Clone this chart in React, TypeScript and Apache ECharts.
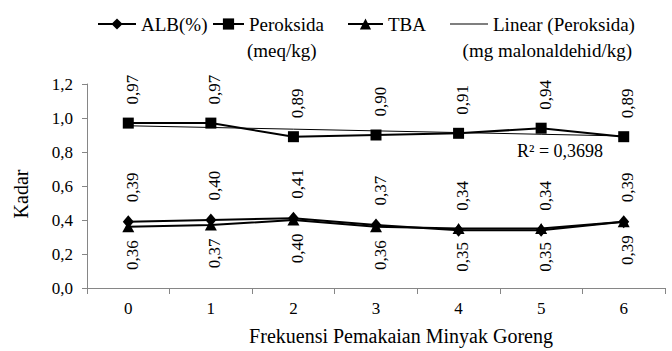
import React, { useEffect, useRef } from "react";
import * as echarts from "echarts";

const categories = ["0", "1", "2", "3", "4", "5", "6"];
const albValues = [0.39, 0.4, 0.41, 0.37, 0.34, 0.34, 0.39];
const peroksidaValues = [0.97, 0.97, 0.89, 0.9, 0.91, 0.94, 0.89];
const tbaValues = [0.36, 0.37, 0.4, 0.36, 0.35, 0.35, 0.39];
const yMin = 0;
const yMax = 1.2;
const yInterval = 0.2;

const seriesNames = {
  alb: "ALB(%)",
  per: "Peroksida",
  tba: "TBA",
  lin: "Linear (Peroksida)",
};
const perUnit = "(meq/kg)";
const tbaUnit = "(mg malonaldehid/kg)";
const xTitle = "Frekuensi Pemakaian Minyak Goreng";
const yTitle = "Kadar";

// least-squares linear trend of Peroksida (Excel "Linear" trendline)
function linearFit(ys: number[]) {
  const n = ys.length;
  const xs = ys.map((_, i) => i);
  const mx = xs.reduce((a, b) => a + b, 0) / n;
  const my = ys.reduce((a, b) => a + b, 0) / n;
  let sxy = 0, sxx = 0, syy = 0;
  for (let i = 0; i < n; i++) {
    sxy += (xs[i] - mx) * (ys[i] - my);
    sxx += (xs[i] - mx) ** 2;
    syy += (ys[i] - my) ** 2;
  }
  const slope = sxy / sxx;
  const icpt = my - slope * mx;
  const r2 = (sxy * sxy) / (sxx * syy);
  return { line: xs.map((x) => icpt + slope * x), r2 };
}

const FONT = "Liberation Serif";
const comma = (v: number, d: number) => v.toFixed(d).replace(".", ",");

export default function App() {
  const ref = useRef<HTMLDivElement>(null);
  useEffect(() => {
    if (!ref.current) return;
    const chart = echarts.init(ref.current, undefined, { renderer: "svg" });
    const fit = linearFit(peroksidaValues);

    const labelTop = (dist: number) => ({
      show: true,
      position: "top",
      rotate: 90,
      align: "left",
      verticalAlign: "middle",
      distance: dist,
      offset: [0, 4],
      fontFamily: FONT,
      fontSize: 17,
      color: "#000",
      formatter: (p: any) => comma(p.value, 2),
    });
    const labelBottom = (dist: number) => ({
      show: true,
      position: "bottom",
      rotate: 90,
      align: "right",
      verticalAlign: "middle",
      distance: dist,
      offset: [0, 4],
      fontFamily: FONT,
      fontSize: 17,
      color: "#000",
      formatter: (p: any) => comma(p.value, 2),
    });

    const legendBase = {
      orient: "horizontal",
      padding: 0,
      itemHeight: 14,
      top: 11,
      selectedMode: false,
      textStyle: { fontFamily: FONT, fontSize: 19, color: "#000", lineHeight: 26 },
    };

    chart.setOption({
      animation: false,
      backgroundColor: "#fff",
      textStyle: { fontFamily: FONT },
      legend: [
        { ...legendBase, left: 97, itemWidth: 38, data: [seriesNames.alb] },
        { ...legendBase, left: 212, itemWidth: 31, data: [seriesNames.per] },
        { ...legendBase, left: 347, itemWidth: 35, data: [seriesNames.tba] },
        {
          ...legendBase,
          left: 450,
          itemWidth: 38,
          itemHeight: 1,
          data: [{ name: seriesNames.lin, icon: "rect" }],
        },
      ],
      grid: { left: 87, right: 7, top: 84, bottom: 57, containLabel: false },
      xAxis: {
        type: "category",
        data: categories,
        boundaryGap: true,
        axisLine: { show: true, lineStyle: { color: "#868686", width: 1 } },
        axisTick: { show: true, alignWithLabel: false, length: 6, lineStyle: { color: "#868686" } },
        axisLabel: { fontFamily: FONT, fontSize: 17, color: "#000", margin: 12 },
        splitLine: { show: false },
        name: xTitle,
        nameLocation: "middle",
        nameGap: 38,
        nameTextStyle: { fontFamily: FONT, fontSize: 20, color: "#000", padding: [0, 0, 0, 50] },
      },
      yAxis: {
        type: "value",
        min: yMin,
        max: yMax,
        interval: yInterval,
        axisLine: { show: true, lineStyle: { color: "#868686", width: 1 } },
        axisTick: { show: true, length: 5, lineStyle: { color: "#868686" } },
        axisLabel: {
          fontFamily: FONT,
          fontSize: 17,
          color: "#000",
          margin: 14,
          formatter: (v: number) => comma(v, 1),
        },
        splitLine: { show: false },
        name: yTitle,
        nameLocation: "middle",
        nameGap: 56,
        nameTextStyle: { fontFamily: FONT, fontSize: 20, color: "#000", padding: [0, 16, 0, 0] },
      },
      series: [
        {
          name: seriesNames.lin,
          type: "line",
          data: fit.line,
          symbol: "none",
          lineStyle: { color: "#000", width: 1 },
          itemStyle: { color: "#000" },
          z: 1,
        },
        {
          name: seriesNames.alb,
          type: "line",
          data: albValues,
          symbol: "diamond",
          symbolSize: [11, 13],
          lineStyle: { color: "#000", width: 2 },
          itemStyle: { color: "#000" },
          label: labelTop(13),
          z: 2,
        },
        {
          name: seriesNames.per,
          type: "line",
          data: peroksidaValues,
          symbol: "rect",
          symbolSize: 11,
          lineStyle: { color: "#000", width: 2 },
          itemStyle: { color: "#000" },
          label: labelTop(13),
          z: 3,
        },
        {
          name: seriesNames.tba,
          type: "line",
          data: tbaValues,
          symbol: "triangle",
          symbolSize: [12, 11],
          lineStyle: { color: "#000", width: 2 },
          itemStyle: { color: "#000" },
          label: labelBottom(8),
          z: 3,
        },
      ],
      graphic: [
        {
          type: "text",
          left: 247,
          top: 37,
          style: { text: perUnit, fontFamily: FONT, fontSize: 19, lineHeight: 26, fill: "#000" },
        },
        {
          type: "text",
          right: 40,
          top: 37,
          style: { text: tbaUnit, fontFamily: FONT, fontSize: 19, lineHeight: 26, fill: "#000" },
        },
        {
          type: "text",
          left: 517,
          top: 142,
          style: {
            text: "R² = " + comma(fit.r2, 4),
            fontFamily: FONT,
            fontSize: 18,
            fill: "#000",
          },
        },
      ],
    });
    return () => chart.dispose();
  }, []);
  return (
    <div
      ref={ref}
      style={{ position: "fixed", left: 0, top: 0, width: 672, height: 351 }}
    />
  );
}
